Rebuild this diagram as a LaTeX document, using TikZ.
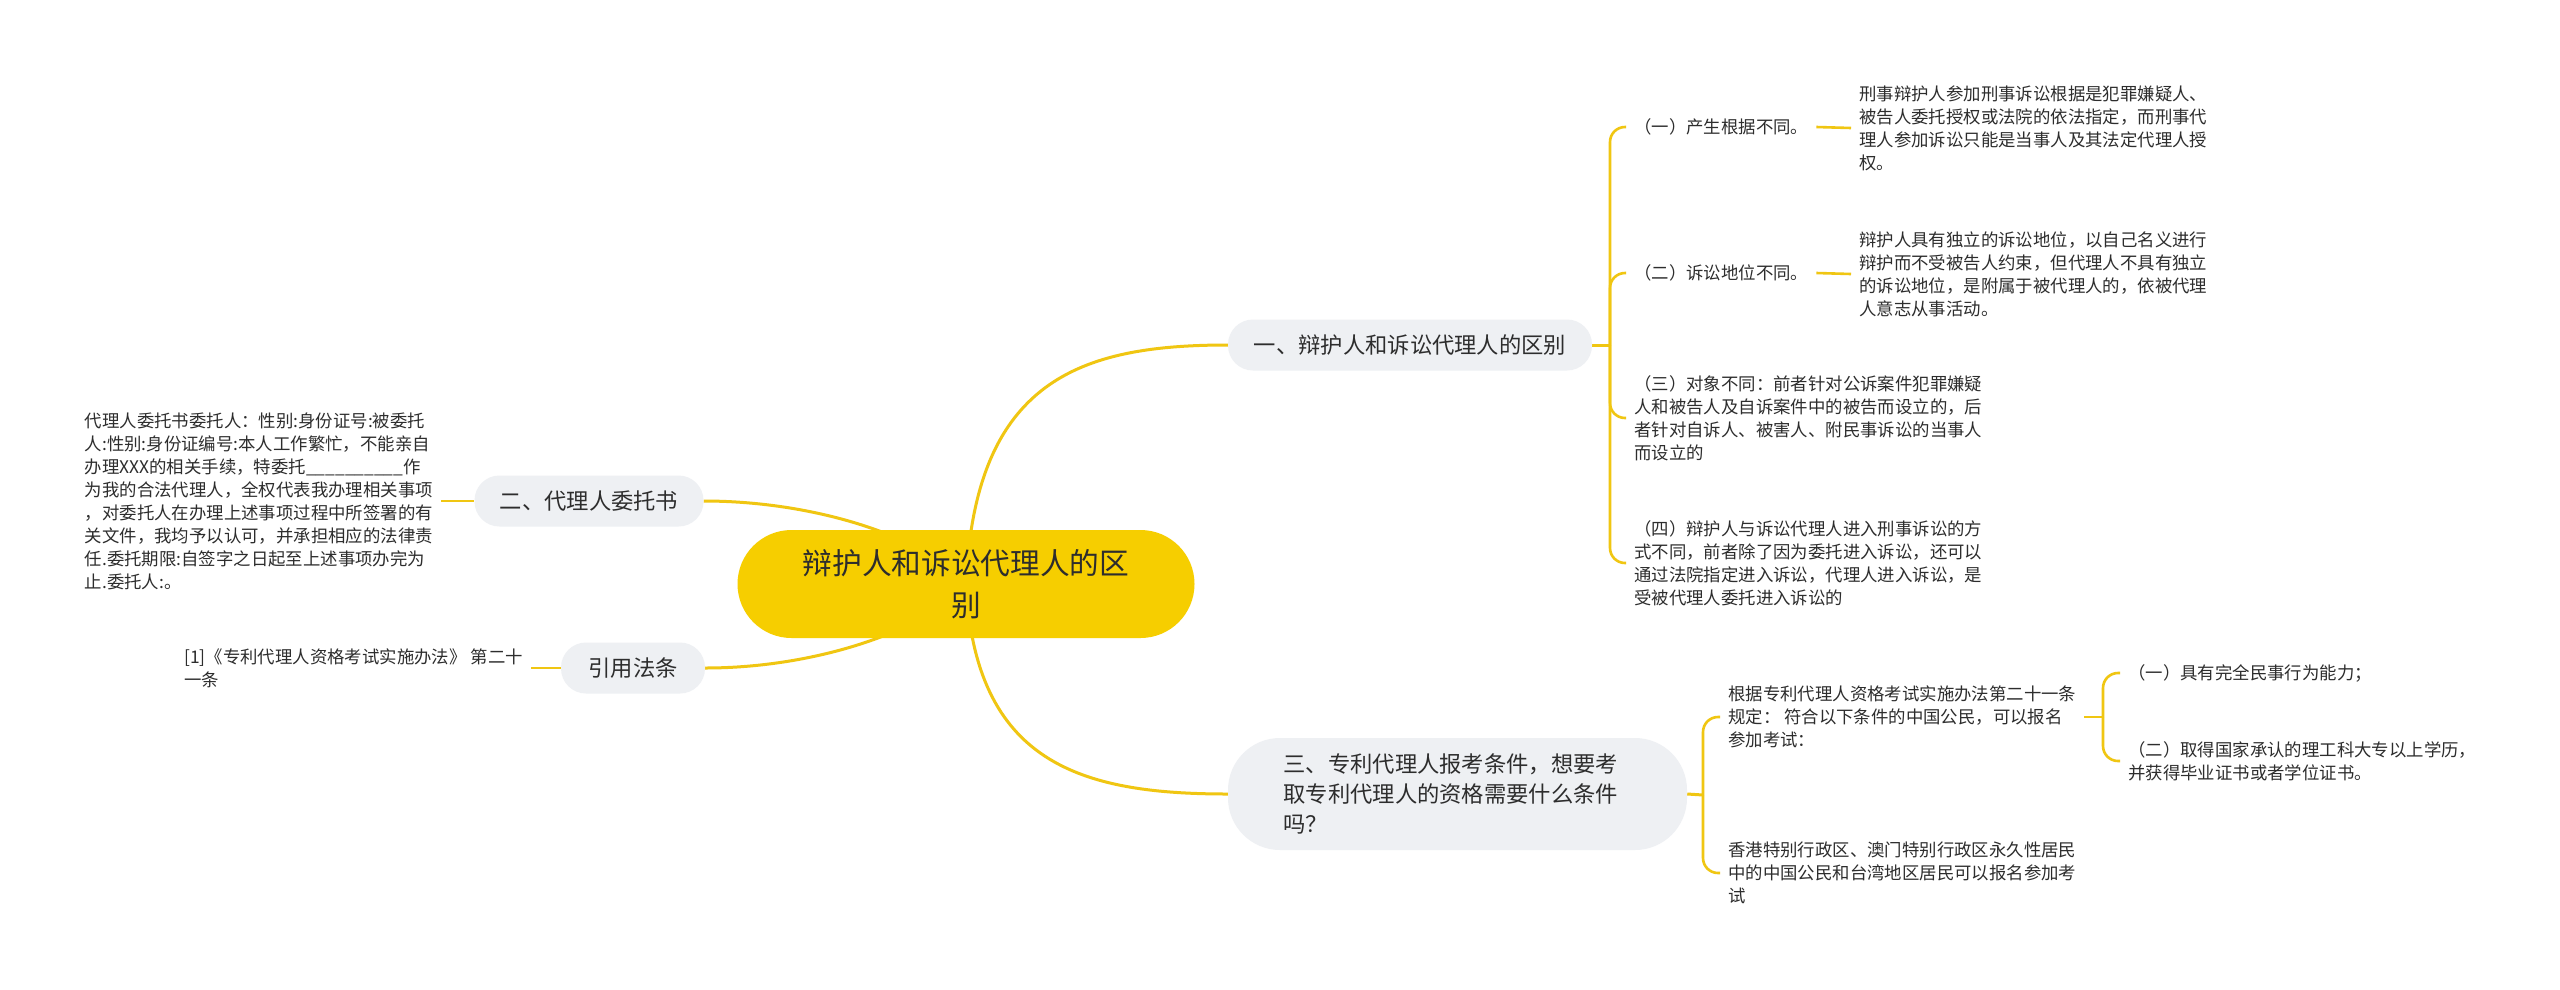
\documentclass[tikz,border=0pt]{standalone}
\usepackage{fontspec}
\setmainfont{Noto Sans CJK SC}
\definecolor{linec}{RGB}{240,198,18}
\definecolor{rootc}{RGB}{246,206,0}
\definecolor{nodebg}{RGB}{238,240,243}
\definecolor{txtc}{RGB}{45,45,45}
\pgfdeclarelayer{bg}
\pgfdeclarelayer{paper}
\pgfsetlayers{paper,bg,main}
\tikzset{
  txt/.style={font=\fontsize{17.4pt}{23pt}\selectfont, text=txtc, align=left, inner xsep=8pt, inner ysep=4pt},
  topic/.style={fill=nodebg, text=txtc, font=\fontsize{22.3pt}{30pt}\selectfont, minimum height=51pt, rounded corners=25pt, inner xsep=4pt},
  topicthree/.style={fill=nodebg, text=txtc, font=\fontsize{22.3pt}{30pt}\selectfont, align=left, text width=348pt, inner xsep=55.5pt, minimum height=112pt, rounded corners=52pt},
  rootnode/.style={fill=rootc, text=txtc, font=\fontsize{29.7pt}{42pt}\selectfont, align=center, minimum width=457pt, minimum height=108pt, rounded corners=54pt},
  link/.style={draw=linec, line width=3pt},
  branch/.style={draw=linec, line width=2.6pt, rounded corners=15pt},
}
\begin{document}
\begin{tikzpicture}[x=1pt,y=-1pt]
\begin{pgfonlayer}{paper}
\fill[white] (0,0) rectangle (2560,989);
\end{pgfonlayer}
\useasboundingbox (0,0) rectangle (2560,989);

% main nodes
\node[rootnode] (root) at (966,584) {辩护人和诉讼代理人的区\\别};
\node[topic, minimum width=364pt] (n1) at (1410,345) {一、辩护人和诉讼代理人的区别};
\node[topic, minimum width=229pt] (n2) at (589,501) {二、代理人委托书};
\node[topic, minimum width=144pt] (n4) at (633,668) {引用法条};
\node[topicthree] (n3) at (1457.5,794) {三、专利代理人报考条件，想要考\\取专利代理人的资格需要什么条件\\吗？};

% branch 1
\coordinate (j1) at (1610,345);
\node[txt, anchor=west] (a1) at (1626,127) {（一）产生根据不同。};
\node[txt, anchor=west] (b1) at (1851,128) {刑事辩护人参加刑事诉讼根据是犯罪嫌疑人、\\被告人委托授权或法院的依法指定，而刑事代\\理人参加诉讼只能是当事人及其法定代理人授\\权。};
\node[txt, anchor=west] (a2) at (1626,273) {（二）诉讼地位不同。};
\node[txt, anchor=west] (b2) at (1851,274) {辩护人具有独立的诉讼地位，以自己名义进行\\辩护而不受被告人约束，但代理人不具有独立\\的诉讼地位，是附属于被代理人的，依被代理\\人意志从事活动。};
\node[txt, anchor=west] (a3) at (1626,418) {（三）对象不同：前者针对公诉案件犯罪嫌疑\\人和被告人及自诉案件中的被告而设立的，后\\者针对自诉人、被害人、附民事诉讼的当事人\\而设立的};
\node[txt, anchor=west] (a4) at (1626,563) {（四）辩护人与诉讼代理人进入刑事诉讼的方\\式不同，前者除了因为委托进入诉讼，还可以\\通过法院指定进入诉讼，代理人进入诉讼，是\\受被代理人委托进入诉讼的};

% branch 2
\node[txt, anchor=east] (c2) at (441,501) {代理人委托书委托人：性别:身份证号:被委托\\人:性别:身份证编号:本人工作繁忙，不能亲自\\办理XXX的相关手续，特委托\_\_\_\_\_\_\_\_\_\_作\\为我的合法代理人，全权代表我办理相关事项\\，对委托人在办理上述事项过程中所签署的有\\关文件，我均予以认可，并承担相应的法律责\\任.委托期限:自签字之日起至上述事项办完为\\止.委托人:。};

% branch 4
\node[txt, anchor=east] (c4) at (531,668) {[1]《专利代理人资格考试实施办法》 第二十\\一条};

% branch 3
\coordinate (j3) at (1703,795);
\node[txt, anchor=west] (d1) at (1720,717) {根据专利代理人资格考试实施办法第二十一条\\规定： 符合以下条件的中国公民，可以报名\\参加考试：};
\node[txt, anchor=west] (d2) at (1720,873) {香港特别行政区、澳门特别行政区永久性居民\\中的中国公民和台湾地区居民可以报名参加考\\试};
\coordinate (j4) at (2103,717);
\node[txt, anchor=west] (e1) at (2120,673) {（一）具有完全民事行为能力；};
\node[txt, anchor=west] (e2) at (2120,761) {（二）取得国家承认的理工科大专以上学历，\\并获得毕业证书或者学位证书。};

\begin{pgfonlayer}{bg}
  % root connectors
  \draw[link] (root.center) .. controls (975,380) and (1080,345) .. (n1.west);
  \draw[link] (root.center) .. controls (975,763) and (1080,794) .. (n3.west);
  \draw[link] (n2.east) .. controls (820,501) and (930,540) .. (root.center);
  \draw[link] (n4.east) .. controls (820,668) and (930,628) .. (root.center);
  % branch 1
  \draw[link] (n1.east) -- (j1);
  \draw[branch] (j1) |- (a1.west);
  \draw[branch] (j1) |- (a2.west);
  \draw[branch] (j1) |- (a3.west);
  \draw[branch] (j1) |- (a4.west);
  \draw[branch] (a1.east) -- (b1.west);
  \draw[branch] (a2.east) -- (b2.west);
  % branch 2 and 4
  \draw[branch] (c2.east) -- (n2.west);
  \draw[branch] (c4.east) -- (n4.west);
  % branch 3
  \draw[link] (n3.east) -- (j3);
  \draw[branch] (j3) |- (d1.west);
  \draw[branch] (j3) |- (d2.west);
  \draw[branch] (d1.east) -- (j4);
  \draw[branch] (j4) |- (e1.west);
  \draw[branch] (j4) |- (e2.west);
\end{pgfonlayer}
\end{tikzpicture}
\end{document}
